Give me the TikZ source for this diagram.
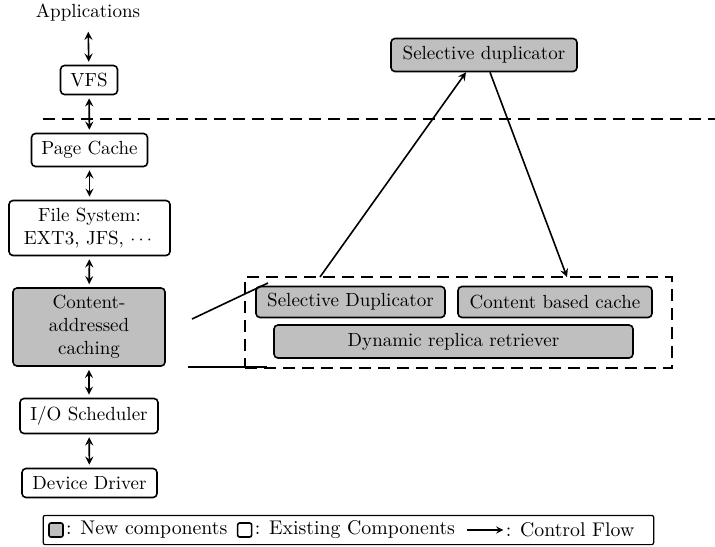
\documentclass[tikz,border=0pt]{standalone}
\usepackage{tikz}
\usepackage{amsmath}
\usetikzlibrary{positioning,fit,arrows}

\begin{document}
\begin{tikzpicture}[x=0.5pt,y=-0.5pt,>=stealth,font=\fontsize{9.5}{11.5}\selectfont,
		layer/.style={draw,thick,rounded corners=2pt,align=center,inner sep=0pt},
		newlayer/.style={layer,fill=gray!50},
		link/.style={<->,thick,shorten <=1.5pt,shorten >=1.5pt},
		flow/.style={->,thick},
		boundary/.style={thick,dash pattern=on 6pt off 3.5pt},
		key/.style={draw,thick,rounded corners=1pt,minimum size=7pt,inner sep=0pt},
		keytext/.style={inner sep=1pt,font=\fontsize{9.9}{12}\selectfont}]
			\useasboundingbox (0,0) rectangle (715,546);
			% storage stack
			\node (apps) at (88,13) {Applications};
			\node[layer,minimum width=28.5pt,minimum height=14.5pt] (vfs) at (89,80) {VFS};
			\node[layer,minimum width=58pt,minimum height=16.5pt] (pcache) at (89.5,150) {Page Cache};
			\node[layer,minimum width=80.5pt,minimum height=27.5pt] (fs) at (89.5,228) {File System:\\EXT3, JFS, $\cdots$};
			\node[newlayer,minimum width=76pt,minimum height=39pt] (cac) at (89,327) {Content-\\addressed\\caching};
			\node[layer,minimum width=69pt,minimum height=17.5pt] (iosched) at (89,416) {I/O Scheduler};
			\node[layer,minimum width=67.5pt,minimum height=14.5pt] (driver) at (89.5,483) {Device Driver};
			\draw[link] (apps) -- (vfs);
			\draw[link] (vfs) -- (pcache);
			\draw[link] (pcache) -- (fs);
			\draw[link] (fs) -- (cac);
			\draw[link] (cac) -- (iosched);
			\draw[link] (iosched) -- (driver);
			% user/kernel boundary
			\coordinate (kleft) at (43,119);
			\coordinate (kright) at (715,119);
			\draw[boundary] (kleft) -- (kright);
			% inside content-addressed caching
			\node[boundary,draw,minimum width=213.5pt,minimum height=45.5pt,inner sep=0pt] (group) at (458.5,322.5) {};
			\node[newlayer,minimum width=94.5pt,minimum height=15.5pt] (sdup) at (350.5,302) {Selective Duplicator};
			\node[newlayer,minimum width=97pt,minimum height=15.5pt] (cbc) at (555,302) {Content based cache};
			\node[newlayer,minimum width=179.5pt,minimum height=16.5pt] (drr) at (453.5,341.5) {Dynamic replica retriever};
			\node[newlayer,minimum width=93pt,minimum height=16.5pt] (seldup) at (484,55) {Selective duplicator};
			\coordinate (dupout) at (320,277);
			\coordinate (dupin) at (567,277);
			\draw[flow] (dupout) -- ([xshift=-9pt]seldup.south);
			\draw[flow] ([xshift=3pt]seldup.south) -- (dupin);
			% zoom lines
			\coordinate (zin1) at (192,319);
			\coordinate (zout1) at (268,283);
			\coordinate (zin2) at (188,367);
			\coordinate (zout2) at (267,367);
			\draw[thick] (zin1) -- (zout1);
			\draw[thick] (zin2) -- (zout2);
			% legend
			\node[key,fill=gray!50] (knew) at (56,530) {};
			\node[keytext,right=0pt of knew] (tnew) {: New components};
			\node[key,right=3.5pt of tnew] (kold) {};
			\node[keytext,right=0pt of kold] (told) {: Existing Components};
			\coordinate[right=5pt of told] (fa);
			\coordinate[right=18pt of fa] (fb);
			\draw[->,semithick] (fa) -- (fb);
			\node[keytext,right=0pt of fb] (tflow) {: Control Flow};
			\coordinate[right=6pt of tflow] (lend);
			\node[draw,semithick,rounded corners=1pt,fit=(knew)(tflow)(lend),inner sep=2.5pt] (legend) {};
		\end{tikzpicture}
\end{document}
